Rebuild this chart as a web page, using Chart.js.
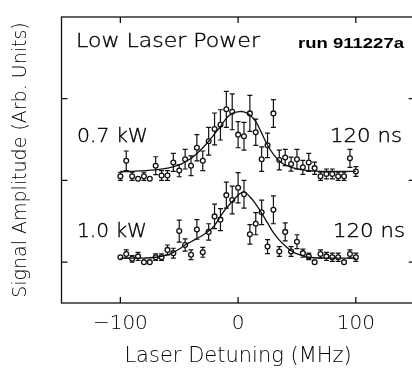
<!DOCTYPE html>
<html>
<head>
<meta charset="utf-8">
<script src="https://cdn.jsdelivr.net/npm/chart.js@4/dist/chart.umd.min.js"></script>
<style>
  html, body { margin: 0; padding: 0; background: #fff; overflow: hidden; }
  #wrap { width: 420px; height: 375px; }
</style>
</head>
<body>
<div id="wrap"><canvas id="sigChart" width="420" height="375"></canvas></div>
<script>
// detuning (MHz) of each measured point
const detuning = [-100, -95, -90, -85, -80, -75, -70, -65, -60, -55, -50, -45, -40, -35, -30, -25, -20, -15, -10, -5,
  0, 5, 10, 15, 20, 25, 30, 35, 40, 45, 50, 55, 60, 65, 70, 75, 80, 85, 90, 95, 100];

// 0.7 kW run (upper trace)
const signal07 = [2.05, 2.24, 2.05, 2.02, 2.05, 2.02, 2.18, 2.06, 2.06, 2.22, 2.12, 2.26, 2.18, 2.40, 2.24, 2.48, 2.63, 2.68, 2.87, 2.84,
  2.56, 2.54, 2.82, 2.59, 2.26, 2.43, 2.82, 2.25, 2.28, 2.20, 2.26, 2.16, 2.22, 2.15, 2.05, 2.08, 2.08, 2.05, 2.05, 2.27, 2.11];
const err07 = [0.05, 0.12, 0.05, 0, 0.05, 0, 0.11, 0.06, 0.06, 0.11, 0.075, 0.12, 0.12, 0.16, 0.12, 0.17, 0.195, 0.185, 0.22, 0.22,
  0.16, 0.17, 0.22, 0.16, 0.15, 0.15, 0.17, 0.12, 0.10, 0.085, 0.12, 0.085, 0.11, 0.075, 0.05, 0.06, 0.06, 0.05, 0.05, 0.11, 0.06];

// 1.0 kW run (lower trace)
const signal10 = [1.06, 1.10, 1.04, 1.07, 1.00, 1.00, 1.06, 1.06, 1.15, 1.11, 1.38, 1.21, 1.09, 1.40, 1.12, 1.37, 1.56, 1.52, 1.82, 1.76,
  1.91, 1.83, 1.34, 1.47, 1.61, 1.19, 1.64, 1.13, 1.37, 1.13, 1.25, 1.11, 1.07, 1.00, 1.10, 1.07, 1.06, 1.06, 1.00, 1.10, 1.06];
const err10 = [0, 0.05, 0.04, 0.05, 0, 0, 0.04, 0.04, 0.06, 0.06, 0.135, 0.075, 0.06, 0.12, 0.06, 0.10, 0.15, 0.135, 0.16, 0.17,
  0.185, 0.17, 0.12, 0.135, 0.15, 0.085, 0.17, 0.06, 0.11, 0.06, 0.085, 0.05, 0.04, 0, 0.05, 0.05, 0.05, 0.05, 0, 0.05, 0.05];

// fitted curves
const fitX07 = [-100, -90, -80, -70, -60, -50, -40, -35, -30, -25, -20, -15, -10, -5, 0, 5, 10, 15, 20, 25, 30, 35, 40, 50, 60, 70, 80, 100];
const fitY07 = [2.11, 2.11, 2.12, 2.13, 2.15, 2.19, 2.27, 2.33, 2.40, 2.48, 2.57, 2.66, 2.76, 2.82, 2.84, 2.84, 2.80, 2.72, 2.58, 2.43, 2.32, 2.24, 2.19, 2.14, 2.12, 2.11, 2.11, 2.11];
const fitX10 = [-100, -90, -80, -70, -60, -55, -50, -45, -40, -35, -30, -25, -20, -15, -10, -5, 0, 5, 10, 15, 20, 25, 30, 35, 40, 45, 50, 55, 60, 70, 80, 100];
const fitY10 = [1.05, 1.05, 1.05, 1.06, 1.09, 1.12, 1.16, 1.21, 1.25, 1.29, 1.33, 1.38, 1.45, 1.56, 1.66, 1.74, 1.82, 1.86, 1.80, 1.71, 1.60, 1.48, 1.36, 1.27, 1.20, 1.14, 1.10, 1.08, 1.06, 1.05, 1.05, 1.05];

const xTicks = [-100, 0, 100];
const yTicks = [1, 2, 3];

const FONT = 'DejaVu Sans';
const INK = '#111';
const TEXT = '#000';

function pts(xs, ys) {
  return xs.map((x, i) => ({ x: x, y: ys[i] }));
}

// draws text squeezed / stretched to a given width
function fitText(ctx, txt, x, y, w, font, heavy) {
  ctx.save();
  ctx.font = font;
  ctx.textBaseline = 'middle';
  ctx.textAlign = 'left';
  const m = ctx.measureText(txt).width;
  ctx.translate(x, y);
  ctx.scale(w / m, 1);
  ctx.fillStyle = TEXT;
  ctx.fillText(txt, 0, 0);
  if (heavy) {
    ctx.strokeStyle = TEXT;
    ctx.lineWidth = 0.35;
    ctx.strokeText(txt, 0, 0);
  }
  ctx.restore();
}

const errorBars = {
  id: 'errorBars',
  beforeDatasetsDraw(chart) {
    const ctx = chart.ctx;
    const xs = chart.scales.x, ys = chart.scales.y;
    ctx.save();
    ctx.strokeStyle = INK;
    ctx.lineWidth = 1.2;
    chart.data.datasets.forEach(ds => {
      if (!ds.errors) return;
      ds.data.forEach((p, i) => {
        const e = ds.errors[i];
        if (!e) return;
        const px = xs.getPixelForValue(p.x);
        const y1 = ys.getPixelForValue(p.y + e);
        const y2 = ys.getPixelForValue(p.y - e);
        ctx.beginPath();
        ctx.moveTo(px, y1); ctx.lineTo(px, y2);
        ctx.moveTo(px - 2.5, y1); ctx.lineTo(px + 2.5, y1);
        ctx.moveTo(px - 2.5, y2); ctx.lineTo(px + 2.5, y2);
        ctx.stroke();
      });
    });
    ctx.restore();
  }
};

const frameAndLabels = {
  id: 'frameAndLabels',
  afterDraw(chart) {
    const ctx = chart.ctx;
    const a = chart.chartArea;
    const xs = chart.scales.x, ys = chart.scales.y;
    ctx.save();
    ctx.strokeStyle = INK;
    ctx.lineWidth = 1.3;
    ctx.strokeRect(a.left, a.top, a.right - a.left, a.bottom - a.top);
    ctx.beginPath();
    xTicks.forEach(v => {
      const px = xs.getPixelForValue(v);
      ctx.moveTo(px, a.bottom); ctx.lineTo(px, a.bottom - 6);
      ctx.moveTo(px, a.top); ctx.lineTo(px, a.top + 6);
    });
    yTicks.forEach(v => {
      const py = ys.getPixelForValue(v);
      ctx.moveTo(a.left, py); ctx.lineTo(a.left + 6, py);
      ctx.moveTo(a.right, py); ctx.lineTo(a.right - 6, py);
    });
    ctx.stroke();
    ctx.restore();

    fitText(ctx, 'Low Laser Power', 76, 42, 184, '300 20px ' + FONT, true);
    fitText(ctx, 'run 911227a', 298, 44, 106, '600 15px "Liberation Sans"', false);
    fitText(ctx, '0.7 kW', 77, 137, 71, '300 19px ' + FONT, true);
    fitText(ctx, '120 ns', 330, 137, 72, '300 19px ' + FONT, true);
    fitText(ctx, '1.0 kW', 77, 232, 70, '300 19px ' + FONT, true);
    fitText(ctx, '120 ns', 333, 232, 72, '300 19px ' + FONT, true);
  }
};

const ctx = document.getElementById('sigChart').getContext('2d');
ctx.letterSpacing = '0.7px';
const sigChart = new Chart(ctx, {
  type: 'scatter',
  data: {
    datasets: [
      {
        label: 'fit 0.7 kW',
        type: 'line',
        data: pts(fitX07, fitY07),
        borderColor: INK,
        borderWidth: 1.3,
        pointRadius: 0,
        tension: 0.4,
        fill: false
      },
      {
        label: 'fit 1.0 kW',
        type: 'line',
        data: pts(fitX10, fitY10),
        borderColor: INK,
        borderWidth: 1.3,
        pointRadius: 0,
        tension: 0.4,
        fill: false
      },
      {
        label: '0.7 kW',
        data: pts(detuning, signal07),
        errors: err07,
        pointRadius: 2.4,
        pointBorderWidth: 1.3,
        borderColor: INK,
        backgroundColor: '#fff'
      },
      {
        label: '1.0 kW',
        data: pts(detuning, signal10),
        errors: err10,
        pointRadius: 2.4,
        pointBorderWidth: 1.3,
        borderColor: INK,
        backgroundColor: '#fff'
      }
    ]
  },
  options: {
    responsive: false,
    animation: false,
    devicePixelRatio: 1,
    layout: { padding: { top: 17, right: 3, left: 0, bottom: 0 } },
    plugins: { legend: { display: false }, tooltip: { enabled: false } },
    scales: {
      x: {
        type: 'linear',
        min: -150,
        max: 150,
        afterBuildTicks: s => { s.ticks = xTicks.map(v => ({ value: v })); },
        afterFit: s => { s.height = 72; },
        grid: { display: false, drawTicks: false },
        border: { display: false },
        ticks: {
          color: TEXT,
          padding: 9,
          font: { family: FONT, size: 20, weight: 300 },
          callback: v => v < 0 ? '\u2212' + Math.abs(v) : String(v)
        },
        title: {
          display: true,
          text: 'Laser Detuning (MHz)',
          color: TEXT,
          font: { family: FONT, size: 21, weight: 300 },
          padding: { top: 0, bottom: 6 }
        }
      },
      y: {
        type: 'linear',
        min: 0.5,
        max: 4,
        afterBuildTicks: s => { s.ticks = yTicks.map(v => ({ value: v })); },
        afterFit: s => { s.width = 61.5; },
        grid: { display: false, drawTicks: false },
        border: { display: false },
        ticks: { display: false },
        title: {
          display: true,
          text: 'Signal Amplitude (Arb. Units)',
          color: TEXT,
          font: { family: FONT, size: 19, weight: 300 },
          padding: { top: 10, bottom: 0 }
        }
      }
    }
  },
  plugins: [errorBars, frameAndLabels]
});
</script>
</body>
</html>
